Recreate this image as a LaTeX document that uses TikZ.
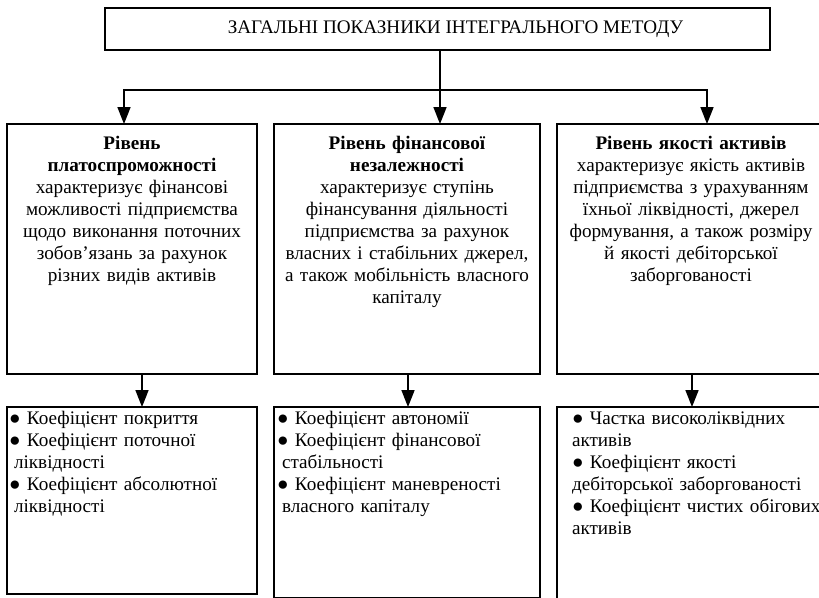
\documentclass[tikz,border=0pt]{standalone}
\usepackage{fontspec}
\setmainfont{Liberation Serif}
\usepackage{tikz}
\usetikzlibrary{arrows.meta}
\usetikzlibrary{positioning}
\newlength{\unitpx}
\setlength{\unitpx}{0.6pt}
\newcommand{\ind}{\hspace*{15\unitpx}}

\begin{document}
\begin{tikzpicture}[x=0.6pt, y=-0.6pt,
	line width=1.7\unitpx,
	font=\fontsize{11.5}{13.2}\selectfont,
	box/.style={draw, outer sep=0pt, inner xsep=0pt, inner ysep=0pt},
	level/.style={box, anchor=north west, align=center,
		text height=25.5\unitpx, text depth=224.5\unitpx},
	coef/.style={box, align=left, text height=17.5\unitpx},
	arr/.style={-{Triangle[width=7.8pt,length=10.2pt]}}]
  \clip (0,0) rectangle (819,597);
  % top
  \node[box, minimum width=665\unitpx, minimum height=42\unitpx] (top) at (437.5,29)
    {\hspace*{36\unitpx}ЗАГАЛЬНІ ПОКАЗНИКИ ІНТЕГРАЛЬНОГО МЕТОДУ};
  % levels
  \node[level, text width=250\unitpx] (lvl1) at (7,124)
    {\textbf{Рівень}\\ \textbf{платоспроможності}\\ характеризує фінансові\\
     можливості підприємства\\ щодо виконання поточних\\
     зобов’язань за рахунок\\ різних видів активів};
  \node[level, text width=266\unitpx] (lvl2) at (274,124)
    {\textbf{Рівень фінансової}\\ \textbf{незалежності}\\ характеризує ступінь\\
     фінансування діяльності\\ підприємства за рахунок\\
     власних і стабільних джерел,\\ а також мобільність власного\\ капіталу};
  \node[level, text width=268\unitpx] (lvl3) at (557,124)
    {\textbf{Рівень якості активів}\\ характеризує якість активів\\
     підприємства з урахуванням\\ їхньої ліквідності, джерел\\
     формування, а також розміру\\ й якості дебіторської\\ заборгованості};
  % coefficients
  \node[coef, inner xsep=2\unitpx, text width=246\unitpx, text depth=169.5\unitpx,
    below=33\unitpx of lvl1] (ind1)
    {● Коефіцієнт покриття\\ ● Коефіцієнт поточної\\
     \hspace*{5\unitpx}ліквідності\\ ● Коефіцієнт абсолютної\\
     \hspace*{5\unitpx}ліквідності};
  \node[coef, inner xsep=3\unitpx, text width=260\unitpx, text depth=173.5\unitpx,
    below=33\unitpx of lvl2] (ind2)
    {● Коефіцієнт автономії\\ ● Коефіцієнт фінансової\\
     \hspace*{5\unitpx}стабільності\\ ● Коефіцієнт маневреності\\
     \hspace*{5\unitpx}власного капіталу};
  \node[coef, text width=268\unitpx, text depth=190\unitpx,
    below=33\unitpx of lvl3] (ind3)
    {\ind ● Частка високоліквідних\\ \ind активів\\ \ind ● Коефіцієнт якості\\
     \ind\mbox{дебіторської заборгованості}\\ \ind\mbox{● Коефіцієнт чистих обігових}\\
     \ind активів};
  % arrows
  \coordinate (fork) at (440,90);
  \draw (top.south -| fork) -- (fork);
  \draw[arr] (fork) -| ([xshift=-4.8pt]lvl1.north);
  \draw[arr] (fork) -- (fork |- lvl2.north);
  \draw[arr] (fork) -| ([xshift=9.6pt]lvl3.north);
  \draw[arr] ([xshift=6pt]lvl1.south) -- ([xshift=6pt]ind1.north);
  \draw[arr] ([xshift=0.6pt]lvl2.south) -- ([xshift=0.6pt]ind2.north);
  \draw[arr] ([xshift=0.6pt]lvl3.south) -- ([xshift=0.6pt]ind3.north);
\end{tikzpicture}
\end{document}
